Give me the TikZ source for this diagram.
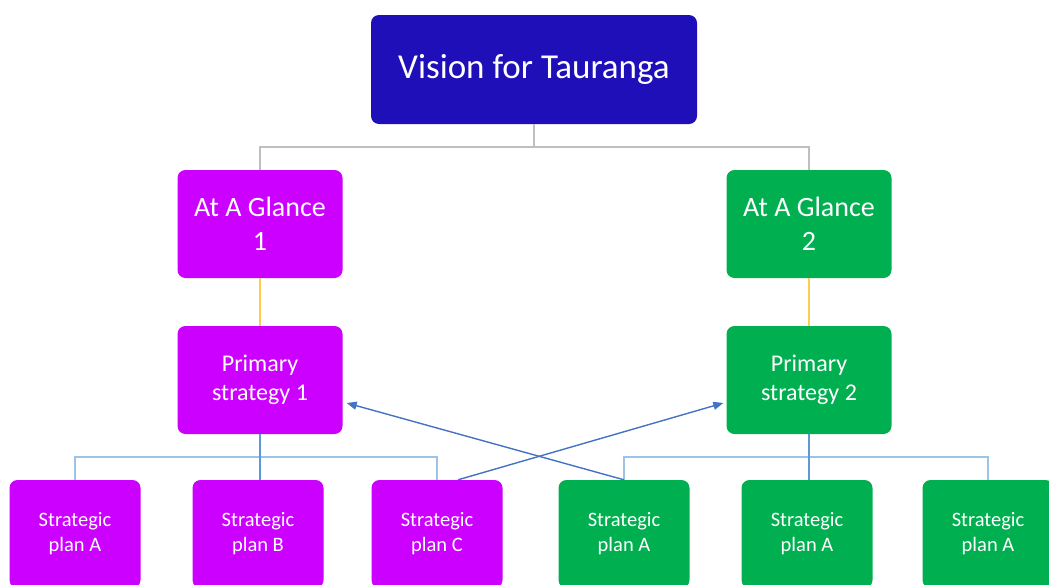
\documentclass[tikz,border=0pt]{standalone}
\usepackage{fontspec}
\setmainfont{Carlito}
\usetikzlibrary{arrows.meta}
\definecolor{visblue}{RGB}{31,15,184}
\definecolor{mag}{RGB}{204,0,255}
\definecolor{grn}{RGB}{0,176,80}
\definecolor{graylink}{RGB}{191,191,191}
\definecolor{yellink}{RGB}{255,204,80}
\definecolor{bluelink}{RGB}{157,195,230}
\definecolor{stemblue}{RGB}{91,155,213}
\definecolor{arrowblue}{RGB}{68,114,196}
\tikzset{
  box/.style={rounded corners=8pt, draw=none, text=white, align=center, inner sep=0pt},
  topbox/.style={box, fill=visblue, minimum width=326pt, minimum height=109pt, font=\fontsize{35}{42}\selectfont},
  midbox/.style={box, minimum width=165pt, minimum height=108pt},
  glance/.style={midbox, font=\fontsize{28}{34}\selectfont},
  prim/.style={midbox, font=\fontsize{24}{29}\selectfont},
  plan/.style={box, minimum width=131pt, minimum height=108pt, font=\fontsize{20.5}{25}\selectfont},
  glink/.style={graylink, line width=1.8pt},
  ylink/.style={yellink, line width=1.8pt},
  blink/.style={bluelink, line width=1.8pt},
  slink/.style={stemblue, line width=1.8pt},
  xarrow/.style={arrowblue, line width=1.4pt, -{Triangle[length=10pt,width=8pt]}},
}
\begin{document}
\begin{tikzpicture}[x=1pt,y=-1pt]
\clip (0,0) rectangle (1049,584);
\fill[white] (0,0) rectangle (1049,584);
\node[topbox] (vis) at (534,69.5) {Vision for Tauranga};
\node[glance, fill=mag] (g1) at (260,224) {At A Glance\\1};
\node[glance, fill=grn] (g2) at (809,224) {At A Glance\\2};
\node[prim, fill=mag] (p1) at (260,380) {Primary\\strategy 1};
\node[prim, fill=grn] (p2) at (809,380) {Primary\\strategy 2};
\node[plan, fill=mag] (sA) at (75,534) {Strategic\\plan A};
\node[plan, fill=mag] (sB) at (258,534) {Strategic\\plan B};
\node[plan, fill=mag] (sC) at (437,534) {Strategic\\plan C};
\node[plan, fill=grn] (sD) at (624,534) {Strategic\\plan A};
\node[plan, fill=grn] (sE) at (807,534) {Strategic\\plan A};
\node[plan, fill=grn] (sF) at (988,534) {Strategic\\plan A};
% gray links
\draw[glink] (vis.south) -- ++(0,23) -| (g1.north);
\draw[glink] (vis.south) -- ++(0,23) -| (g2.north);
% yellow links
\draw[ylink] (g1.south) -- (p1.north);
\draw[ylink] (g2.south) -- (p2.north);
% blue bus links
\draw[blink] (p1.south) ++(0,23) -| (sA.north);
\draw[blink] (p1.south) ++(0,23) -| (sC.north);
\draw[blink] (p2.south) ++(0,23) -| (sD.north);
\draw[blink] (p2.south) ++(0,23) -| (sF.north);
\draw[slink] (p1.south) -- (p1.south |- sB.north);
\draw[slink] (p2.south) -- (p2.south |- sE.north);
% crossing arrows
\coordinate (t1) at ([shift={(4,23)}]p1.east);
\coordinate (t2) at ([shift={(-3,23)}]p2.west);
\draw[xarrow] (sD.north) -- (t1);
\draw[xarrow] ([xshift=21pt]sC.north) -- (t2);
\end{tikzpicture}
\end{document}
